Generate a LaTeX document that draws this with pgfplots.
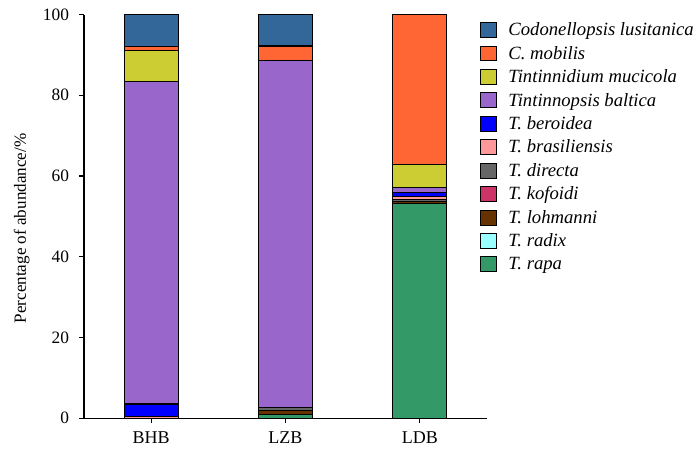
\documentclass[border=0pt]{standalone}
\usepackage{pgfplots}
\usepackage{pgfplotstable}
\pgfplotsset{compat=1.18}
\usepackage{fontspec}
\setmainfont{Liberation Serif}
\definecolor{cCodon}{HTML}{336699}
\definecolor{cMob}{HTML}{FF6633}
\definecolor{cMuc}{HTML}{CCCC33}
\definecolor{cBal}{HTML}{9966CC}
\definecolor{cBer}{HTML}{0000FF}
\definecolor{cBra}{HTML}{FF9999}
\definecolor{cDir}{HTML}{666666}
\definecolor{cKof}{HTML}{CC3366}
\definecolor{cLoh}{HTML}{663300}
\definecolor{cRad}{HTML}{99FFFF}
\definecolor{cRap}{HTML}{339966}
\pgfplotstableread{
x rapa radix lohmanni kofoidi directa brasil beroidea baltica mucicola mobilis codon
0 0    0     0        0       0       0.4    3.1      79.8    7.9      0.9     7.9
1 1.0  0     0.8      0       0.8     0      0        86.0    0        3.6     7.8
2 53.2 0     0.5      0       0.5     0.6    1.2      1.2     5.6      37.2    0
}\datatable
\begin{document}
\begin{tikzpicture}
\begin{axis}[
  scale only axis,
  width=302pt, height=302.5pt,
  ybar stacked,
  bar width=0.4,
  xmin=-0.5, xmax=2.5,
  ymin=0, ymax=100,
  axis lines*=left,
  axis line style={line width=0.9pt},
  xtick={0,1,2},
  xticklabels={BHB,LZB,LDB},
  ytick={0,20,40,60,80,100},
  tick align=outside,
  tick style={black, line width=0.9pt},
  major tick length=3.75pt,
  /pgf/number format/assume math mode=true,
  yticklabel style={font=\fontsize{13}{15}\selectfont, xshift=-4pt},
  xticklabel style={font=\fontsize{13.5}{15}\selectfont, yshift=-3pt},
  ylabel={Percentage of abundance/\%},
  ylabel style={font=\fontsize{12.8}{14}\selectfont, at={(axis description cs:-0.155,0.47)}, anchor=center},
  every axis plot/.append style={draw=black, line width=0.8pt},
  reverse legend,
  legend cell align=left,
  legend style={at={(axis cs:-0.5,100)}, anchor=north west, xshift=296.9pt, yshift=-4pt,
    draw=none, inner sep=0pt,
    font=\fontsize{14}{15}\selectfont\itshape, row sep=2.35pt,
    /tikz/every odd column/.append style={column sep=6.3pt}},
  legend image code/.code={\draw[#1, line width=0.7pt] (0pt,-5.4pt) rectangle (12pt,5.8pt);},
]
\addplot[fill=cRap] table[x=x,y=rapa] {\datatable};
\addplot[fill=cRad] table[x=x,y=radix] {\datatable};
\addplot[fill=cLoh] table[x=x,y=lohmanni] {\datatable};
\addplot[fill=cKof] table[x=x,y=kofoidi] {\datatable};
\addplot[fill=cDir] table[x=x,y=directa] {\datatable};
\addplot[fill=cBra] table[x=x,y=brasil] {\datatable};
\addplot[fill=cBer] table[x=x,y=beroidea] {\datatable};
\addplot[fill=cBal] table[x=x,y=baltica] {\datatable};
\addplot[fill=cMuc] table[x=x,y=mucicola] {\datatable};
\addplot[fill=cMob] table[x=x,y=mobilis] {\datatable};
\addplot[fill=cCodon] table[x=x,y=codon] {\datatable};
\legend{T. rapa, T. radix, T. lohmanni, T. kofoidi, T. directa, T. brasiliensis, T. beroidea, Tintinnopsis baltica, Tintinnidium mucicola, C. mobilis, Codonellopsis lusitanica}
\end{axis}
\pgfresetboundingbox
\path ([xshift=-63pt,yshift=-27pt]current axis.south west) rectangle ([xshift=156.7pt,yshift=10.9pt]current axis.north east);
\end{tikzpicture}
\end{document}
